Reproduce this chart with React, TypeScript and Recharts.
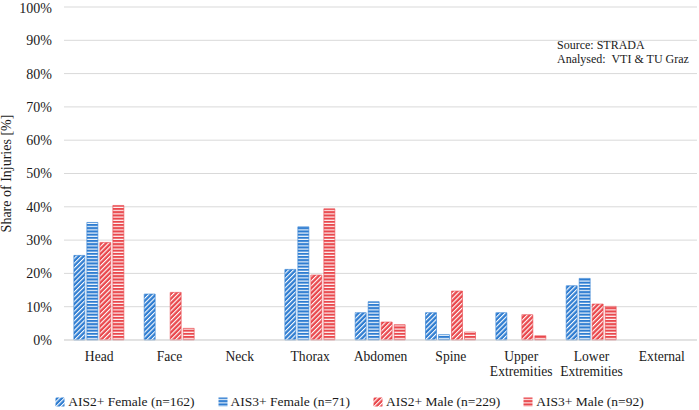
import React from 'react';
import { BarChart, Bar, XAxis, YAxis, CartesianGrid } from 'recharts';

const COLORS = {
  blue: '#2F7DD1',
  red: '#E9484D',
  grid: '#D9D9D9',
  text: '#1A1A1A',
};

const FONT = "'Liberation Serif', 'Times New Roman', serif";

const regions = ['Head', 'Face', 'Neck', 'Thorax', 'Abdomen', 'Spine', 'Upper Extremities', 'Lower Extremities', 'External'];
const ais2Female = [25.4, 13.8, 0, 21.2, 8.2, 8.2, 8.2, 16.3, 0];
const ais3Female = [35.3, 0, 0, 34.0, 11.5, 1.6, 0, 18.5, 0];
const ais2Male = [29.3, 14.3, 0, 19.5, 5.4, 14.7, 7.6, 10.8, 0];
const ais3Male = [40.4, 3.5, 0, 39.4, 4.6, 2.4, 1.3, 10.1, 0];
const yTicks = [0, 10, 20, 30, 40, 50, 60, 70, 80, 90, 100];

const series = [
  { key: 'ais2Female', name: 'AIS2+ Female (n=162)', pattern: 'diagBlue', color: COLORS.blue },
  { key: 'ais3Female', name: 'AIS3+ Female (n=71)', pattern: 'stripeBlue', color: COLORS.blue },
  { key: 'ais2Male', name: 'AIS2+ Male (n=229)', pattern: 'diagRed', color: COLORS.red },
  { key: 'ais3Male', name: 'AIS3+ Male (n=92)', pattern: 'stripeRed', color: COLORS.red },
];

const data = regions.map((name, i) => ({
  name,
  ais2Female: ais2Female[i],
  ais3Female: ais3Female[i],
  ais2Male: ais2Male[i],
  ais3Male: ais3Male[i],
}));

// patterns live in their own svg so every chart svg can reference them
const PatternDefs = () => (
  <svg width={0} height={0} style={{ position: 'absolute' }} aria-hidden="true">
    <defs>
      {[['diagBlue', COLORS.blue], ['diagRed', COLORS.red]].map(([id, c]) => (
        <pattern key={id} id={id} patternUnits="userSpaceOnUse" width={3.4} height={3.4} patternTransform="rotate(45)">
          <rect width={3.4} height={3.4} fill={c} />
          <rect width={1.1} height={3.4} fill="#FFFFFF" />
        </pattern>
      ))}
      {[['stripeBlue', COLORS.blue], ['stripeRed', COLORS.red]].map(([id, c]) => (
        <pattern key={id} id={id} patternUnits="userSpaceOnUse" width={4} height={3.2}>
          <rect width={4} height={3.2} fill={c} />
          <rect y={2.1} width={4} height={1.1} fill="#FFFFFF" />
        </pattern>
      ))}
    </defs>
  </svg>
);

const CategoryTick = ({ x, y, payload }: any) => {
  const lines = String(payload.value).split(' ');
  return (
    <g transform={`translate(${x},${y})`}>
      {lines.map((line, i) => (
        <text
          key={i}
          x={0}
          y={0}
          dy={13 + i * 15}
          textAnchor="middle"
          fill={COLORS.text}
          fontSize={13.6}
          style={{ fontFamily: FONT }}
        >
          {line}
        </text>
      ))}
    </g>
  );
};

const ChartLegend = () => (
  <div
    style={{
      position: 'absolute',
      left: 0,
      top: 393,
      width: 699,
      display: 'flex',
      justifyContent: 'center',
      gap: 23,
      fontFamily: FONT,
      fontSize: 13.5,
      lineHeight: '18px',
      color: COLORS.text,
    }}
  >
    {series.map((s) => (
      <div key={s.key} style={{ display: 'flex', alignItems: 'center', gap: 3 }}>
        <svg width={10} height={10}>
          <rect x={0.5} y={0.5} width={9} height={9} fill={`url(#${s.pattern})`} />
        </svg>
        <span>{s.name}</span>
      </div>
    ))}
  </div>
);

export default function App() {
  return (
    <div
      style={{
        position: 'absolute',
        left: 0,
        top: 0,
        width: 699,
        height: 410,
        background: '#FFFFFF',
        fontFamily: FONT,
      }}
    >
      <PatternDefs />
      <BarChart
        width={699}
        height={410}
        data={data}
        margin={{ top: 7, right: 2, bottom: 0, left: 0 }}
        barCategoryGap="14%"
        barGap={2}
        style={{ fontFamily: FONT }}
      >
        <CartesianGrid vertical={false} stroke={COLORS.grid} strokeWidth={1} />
        <XAxis
          dataKey="name"
          interval={0}
          height={70}
          axisLine={{ stroke: COLORS.grid }}
          tickLine={false}
          tick={<CategoryTick />}
        />
        <YAxis
          width={64}
          domain={[0, 100]}
          ticks={yTicks}
          tickFormatter={(v: number) => `${v}%`}
          axisLine={false}
          tickLine={false}
          tickMargin={6}
          tick={{ fill: COLORS.text, fontSize: 14, style: { fontFamily: FONT } }}
          label={{
            value: 'Share of Injuries [%]',
            angle: -90,
            position: 'insideLeft',
            offset: 6,
            style: { textAnchor: 'middle', fill: COLORS.text, fontFamily: FONT, fontSize: 14 },
          }}
        />
        {series.map((s) => (
          <Bar
            key={s.key}
            dataKey={s.key}
            name={s.name}
            fill={`url(#${s.pattern})`}
            stroke={s.color}
            strokeWidth={0.6}
            isAnimationActive={false}
          />
        ))}
      </BarChart>
      <ChartLegend />
      <div
        style={{
          position: 'absolute',
          left: 557,
          top: 38,
          fontFamily: FONT,
          fontSize: 12,
          lineHeight: '14px',
          color: COLORS.text,
          whiteSpace: 'pre',
        }}
      >
        {'Source: STRADA\nAnalysed:  VTI & TU Graz'}
      </div>
    </div>
  );
}
